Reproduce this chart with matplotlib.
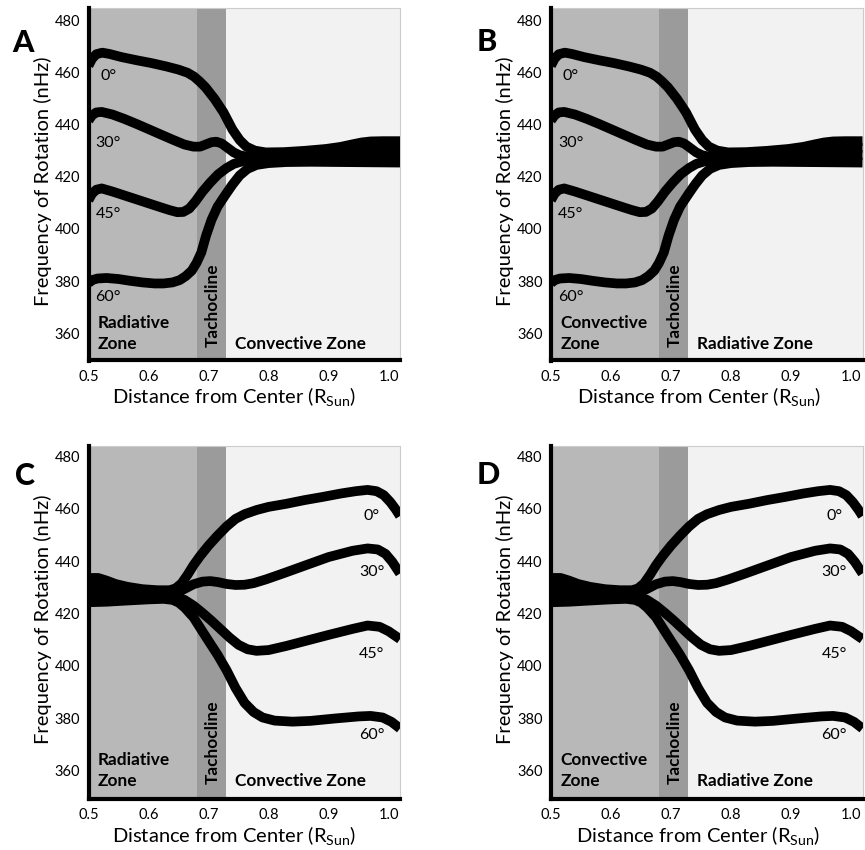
import matplotlib
matplotlib.use("Agg")
import matplotlib.pyplot as plt

plt.rcParams['font.family'] = ['Lato', 'DejaVu Sans']
plt.rcParams['mathtext.fontset'] = 'custom'
plt.rcParams['mathtext.rm'] = 'Lato'

# ---------------- data ----------------
X_TICKS = [0.5, 0.6, 0.7, 0.8, 0.9, 1.0]
X_TICK_LABELS = ['0.5', '0.6', '0.7', '0.8', '0.9', '1.0']
Y_TICKS = [360, 380, 400, 420, 440, 460, 480]
LATITUDES = ['0°', '30°', '45°', '60°']
ZONE_EDGES = [0.5, 0.68, 0.729, 1.019]   # inner zone | tachocline | outer zone

# Panels A and B (same curves)
AB_X_0 = [0.500, 0.506, 0.513, 0.523, 0.535, 0.555, 0.580, 0.605, 0.630, 0.650, 0.665, 0.676, 0.685,
          0.695, 0.710, 0.725, 0.740, 0.752, 0.763, 0.777, 0.795, 0.825, 0.860, 0.895, 0.920, 0.940,
          0.955, 0.970, 0.990, 1.019]
AB_F_0 = [462.5, 465.2, 466.9, 467.5, 467.0, 465.8, 464.6, 463.5, 462.2, 461.0, 459.8, 458.3, 456.5,
          454.2, 449.8, 444.6, 438.0, 434.0, 431.5, 430.0, 429.3, 429.4, 429.9, 430.6, 431.4, 432.4,
          433.1, 433.5, 433.6, 433.6]
AB_X_30 = [0.500, 0.506, 0.513, 0.522, 0.540, 0.560, 0.580, 0.600, 0.620, 0.640, 0.660, 0.675, 0.686,
           0.696, 0.705, 0.713, 0.722, 0.732, 0.742, 0.752, 0.765, 0.785, 0.820, 0.860, 0.900, 0.930,
           0.955, 0.975, 1.000, 1.019]
AB_F_30 = [441.5, 443.5, 444.6, 444.8, 443.8, 442.1, 440.2, 438.2, 436.2, 434.2, 432.3, 431.5, 431.5,
           432.4, 433.2, 433.4, 432.7, 431.0, 429.3, 428.2, 427.6, 427.5, 427.6, 427.9, 428.5, 429.3,
           430.2, 430.8, 431.0, 431.0]
AB_X_45 = [0.500, 0.506, 0.513, 0.522, 0.540, 0.560, 0.580, 0.600, 0.620, 0.635, 0.648, 0.658, 0.668,
           0.678, 0.690, 0.703, 0.716, 0.730, 0.742, 0.755, 0.770, 0.790, 0.820, 0.860, 0.900, 0.930,
           0.955, 0.975, 1.000, 1.019]
AB_F_45 = [411.0, 413.5, 415.0, 415.5, 414.3, 412.8, 411.3, 409.8, 408.3, 407.2, 406.4, 406.5, 407.8,
           410.5, 414.3, 417.8, 420.9, 423.3, 424.9, 425.8, 426.2, 426.3, 426.4, 426.6, 427.0, 427.6,
           428.1, 428.3, 428.3, 428.3]
AB_X_60 = [0.500, 0.506, 0.515, 0.530, 0.550, 0.570, 0.590, 0.610, 0.625, 0.640, 0.652, 0.662, 0.672,
           0.680, 0.688, 0.696, 0.705, 0.715, 0.728, 0.740, 0.752, 0.765, 0.780, 0.800, 0.830, 0.870,
           0.920, 0.970, 1.019]
AB_F_60 = [379.2, 380.4, 381.0, 381.2, 380.8, 380.1, 379.5, 379.1, 379.1, 379.5, 380.4, 381.9, 384.0,
           387.0, 391.0, 397.5, 403.5, 408.5, 413.0, 417.0, 420.5, 423.0, 424.5, 425.2, 425.6, 425.7,
           425.6, 425.5, 425.4]

# Panels C and D (same curves)
CD_X_0 = [0.500, 0.516, 0.530, 0.545, 0.565, 0.590, 0.615, 0.635, 0.645, 0.655, 0.665, 0.675, 0.686,
          0.700, 0.715, 0.730, 0.745, 0.760, 0.780, 0.800, 0.830, 0.860, 0.890, 0.920, 0.945, 0.965,
          0.980, 0.992, 1.003, 1.012, 1.019]
CD_F_0 = [433.6, 433.6, 432.6, 431.3, 430.2, 429.3, 428.9, 428.9, 429.6, 431.5, 434.8, 438.5, 442.0,
          446.0, 449.8, 453.3, 456.2, 458.0, 459.6, 460.8, 462.0, 463.4, 464.6, 465.9, 466.8, 467.3,
          466.8, 465.3, 462.6, 459.8, 457.3]
CD_X_30 = [0.500, 0.516, 0.535, 0.560, 0.590, 0.620, 0.645, 0.660, 0.675, 0.690, 0.703, 0.716, 0.730,
           0.745, 0.760, 0.775, 0.795, 0.825, 0.860, 0.900, 0.940, 0.965, 0.982, 0.995, 1.006, 1.019]
CD_F_30 = [430.6, 430.6, 429.5, 428.4, 427.7, 427.4, 427.7, 429.4, 431.2, 432.2, 432.4, 432.0, 431.3,
           430.9, 431.0, 431.6, 433.0, 435.4, 438.3, 441.6, 444.0, 444.9, 444.5, 442.8, 439.8, 435.3]
CD_X_45 = [0.500, 0.530, 0.560, 0.600, 0.630, 0.648, 0.660, 0.675, 0.690, 0.705, 0.720, 0.735, 0.750,
           0.765, 0.780, 0.800, 0.830, 0.860, 0.900, 0.940, 0.965, 0.985, 1.000, 1.019]
CD_F_45 = [427.4, 427.2, 427.0, 426.8, 426.6, 426.2, 425.2, 423.0, 420.2, 417.2, 414.0, 410.8, 408.0,
           406.3, 405.7, 406.0, 407.6, 409.4, 411.8, 414.1, 415.4, 414.9, 413.2, 410.2]
CD_X_60 = [0.500, 0.530, 0.560, 0.600, 0.625, 0.640, 0.650, 0.660, 0.675, 0.688, 0.700, 0.715, 0.730,
           0.745, 0.760, 0.775, 0.790, 0.810, 0.840, 0.870, 0.910, 0.950, 0.970, 0.990, 1.005, 1.019]
CD_F_60 = [424.3, 424.5, 424.9, 425.4, 425.6, 425.2, 424.2, 422.3, 418.5, 413.8, 409.5, 404.2, 398.3,
           391.5, 385.8, 382.3, 380.2, 379.0, 378.6, 378.9, 379.8, 380.6, 380.8, 380.2, 378.5, 376.0]

AB_CURVES = [(AB_X_0, AB_F_0), (AB_X_30, AB_F_30), (AB_X_45, AB_F_45), (AB_X_60, AB_F_60)]
CD_CURVES = [(CD_X_0, CD_F_0), (CD_X_30, CD_F_30), (CD_X_45, CD_F_45), (CD_X_60, CD_F_60)]

# label anchors
AB_LABEL_X = 0.533
AB_LABEL_Y = [457.0, 431.4, 404.0, 372.2]
CD_LABEL_X = 0.972
CD_LABEL_Y = [455.8, 434.3, 403.0, 371.8]

# ---------------- figure ----------------
W, H = 865, 850
fig = plt.figure(figsize=(W / 100, H / 100), dpi=100)

ZONE_COLORS = ['#b8b8b8', '#9b9b9b', '#f2f2f2']

panels = [
    ('A', 88.5, 360.5, 8.0, AB_CURVES, AB_LABEL_X, AB_LABEL_Y, ['Radiative', 'Zone'], 'Convective Zone',
     (349.6, 484.6), (12, 52), 0.467),
    ('B', 551.0, 360.5, 8.0, AB_CURVES, AB_LABEL_X, AB_LABEL_Y, ['Convective', 'Zone'], 'Radiative Zone',
     (349.6, 484.6), (477, 51), 0.475),
    ('C', 88.5, 799.0, 446.0, CD_CURVES, CD_LABEL_X, CD_LABEL_Y, ['Radiative', 'Zone'], 'Convective Zone',
     (349.0, 484.1), (15, 485), 0.467),
    ('D', 551.0, 799.0, 446.0, CD_CURVES, CD_LABEL_X, CD_LABEL_Y, ['Convective', 'Zone'], 'Radiative Zone',
     (349.0, 484.1), (477, 484), 0.472),
]

for (letter, lpx, bpx, tpx, curves, lab_x, lab_ys, inner, outer, ylim, lpos, xlab_x) in panels:
    ax = fig.add_axes([lpx / W, (H - bpx) / H, 311.5 / W, (bpx - tpx) / H])
    ax.set_xlim(ZONE_EDGES[0], ZONE_EDGES[-1])
    ax.set_ylim(*ylim)
    for i in range(3):
        ax.axvspan(ZONE_EDGES[i], ZONE_EDGES[i + 1], color=ZONE_COLORS[i], lw=0, zorder=0)

    for (xs, ys) in curves:
        ax.plot(xs, ys, color='black', lw=7.0, solid_joinstyle='round', solid_capstyle='butt', zorder=3)

    for name, yy in zip(LATITUDES, lab_ys):
        ax.text(lab_x, yy, name, fontsize=11.5, ha='center', va='baseline', zorder=4)

    ax.text(0.516, 361.9, inner[0], fontsize=12.4, fontweight='bold', ha='left', va='baseline', zorder=4)
    ax.text(0.516, 353.9, inner[1], fontsize=12.4, fontweight='bold', ha='left', va='baseline', zorder=4)
    ax.text(0.744, 353.9, outer, fontsize=12.4, fontweight='bold', ha='left', va='baseline', zorder=4)
    ax.text(0.7065, 354.6, 'Tachocline', fontsize=12.4, fontweight='bold', rotation=90,
            ha='center', va='bottom', zorder=4)

    ax.set_xticks(X_TICKS)
    ax.set_xticklabels(X_TICK_LABELS)
    ax.set_yticks(Y_TICKS)
    ax.tick_params(length=0, labelsize=10.5, colors='black')
    ax.tick_params(axis='y', pad=6)
    ax.tick_params(axis='x', pad=6.5)

    for s in ['left', 'bottom']:
        ax.spines[s].set_linewidth(3.0)
        ax.spines[s].set_color('black')
        ax.spines[s].set_zorder(5)
    for s in ['top', 'right']:
        ax.spines[s].set_linewidth(0.8)
        ax.spines[s].set_color('#cccccc')

    ax.set_ylabel('Frequency of Rotation (nHz)', fontsize=14.5)
    ax.yaxis.set_label_coords(-0.118, 0.509)
    ax.set_xlabel('Distance from Center (R$_{\\mathregular{Sun}}$)', fontsize=14.5)
    ax.xaxis.set_label_coords(xlab_x, -0.072)

    fig.text(lpos[0] / W, 1 - lpos[1] / H, letter, fontsize=22, fontweight='black',
             ha='left', va='baseline')

fig.savefig('out.png', dpi=100)
